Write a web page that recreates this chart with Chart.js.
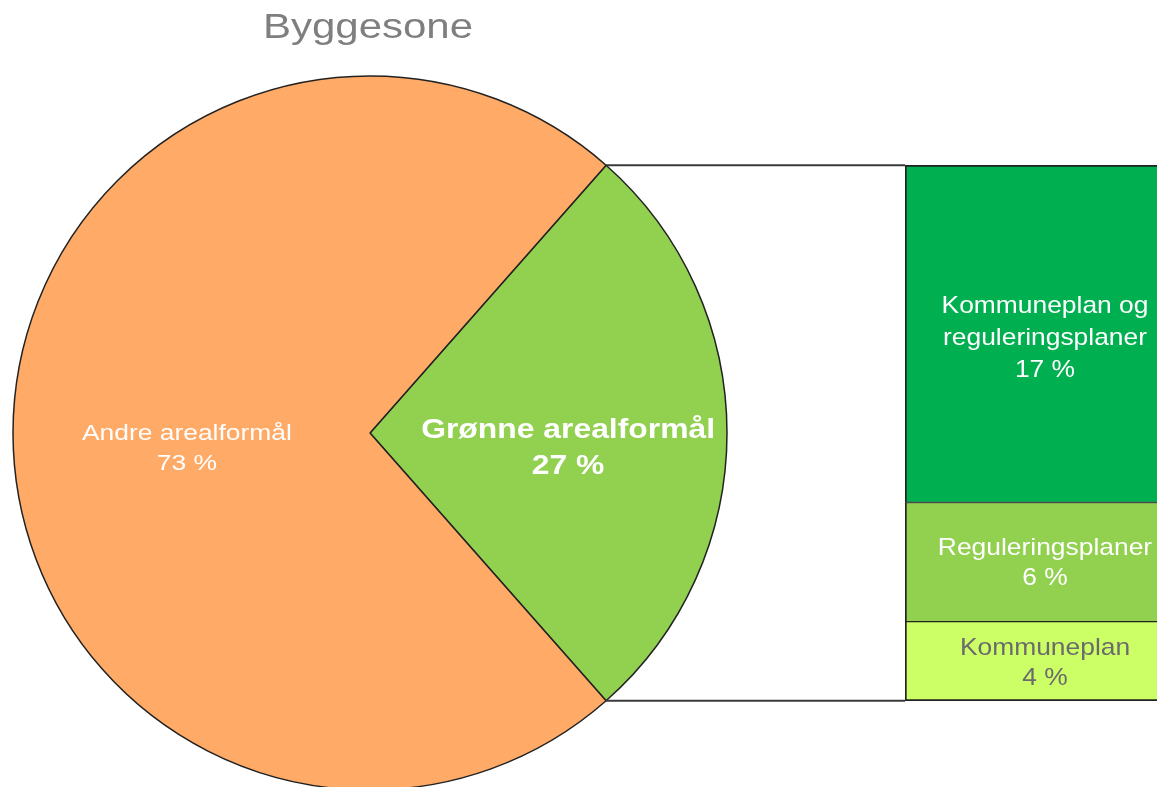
<!DOCTYPE html>
<html>
<head>
<meta charset="utf-8">
<script src="https://cdn.jsdelivr.net/npm/chart.js@4/dist/chart.umd.min.js"></script>
<style>
  html, body { margin: 0; padding: 0; background: #ffffff; overflow: hidden; width: 1157px; height: 787px; }
  #pieWrap { position: absolute; left: 0; top: 0; width: 905px; height: 800px; }
  #barWrap { position: absolute; left: 905px; top: 165px; width: 280px; height: 536px; }
</style>
</head>
<body>
<div id="pieWrap"><canvas id="pie"></canvas></div>
<div id="barWrap"><canvas id="bar"></canvas></div>
<script>
// ---- data ----
const chartTitle = 'Byggesone';
const pieLabels = ['Grønne arealformål', 'Andre arealformål'];
const pieValues = [27, 73];
const barLabels = ['Kommuneplan', 'Reguleringsplaner', 'Kommuneplan og reguleringsplaner'];
const barValues = [4, 6, 17];

// ---- styles ----
const FONT = '"Liberation Sans", Arial, sans-serif';
const pieColors = ['#92D050', '#FFAA66'];
const barColors = ['#CCFF66', '#92D050', '#00B050'];
const barTextColors = ['#6b6b6b', '#ffffff', '#ffffff'];
const barTextShift = [2, 1, 5];
const edge = '#222222';

function drawLines(ctx, lines, cx, cy, font, color, lineH, sx) {
  ctx.save();
  ctx.font = font;
  ctx.fillStyle = color;
  ctx.textAlign = 'center';
  ctx.textBaseline = 'middle';
  const n = lines.length;
  lines.forEach((l, i) => {
    const y = cy + (i - (n - 1) / 2) * lineH;
    ctx.save();
    ctx.translate(cx, y);
    ctx.scale(sx, 1);
    ctx.fillText(l, 0, 0);
    ctx.restore();
  });
  ctx.restore();
}

function wrap(ctx, text, font, sx, maxW) {
  ctx.save();
  ctx.font = font;
  const words = text.split(' ');
  const lines = [];
  let cur = '';
  words.forEach(w => {
    const t = cur ? cur + ' ' + w : w;
    if (cur && ctx.measureText(t).width * sx > maxW) { lines.push(cur); cur = w; }
    else cur = t;
  });
  if (cur) lines.push(cur);
  ctx.restore();
  return lines;
}

const pieDecor = {
  id: 'pieDecor',
  afterDatasetsDraw(chart) {
    const ctx = chart.ctx;
    const meta = chart.getDatasetMeta(0);
    // connector lines from the green slice to the bar
    const g = meta.data[0];
    const p = g.getProps(['x', 'y', 'startAngle', 'endAngle', 'outerRadius'], true);
    ctx.save();
    ctx.strokeStyle = '#3a3a3a';
    ctx.lineWidth = 2;
    [p.startAngle, p.endAngle].forEach(a => {
      const x0 = p.x + p.outerRadius * Math.cos(a);
      const y0 = p.y + p.outerRadius * Math.sin(a);
      ctx.beginPath();
      ctx.moveTo(x0, y0);
      ctx.lineTo(chart.width, y0);
      ctx.stroke();
    });
    ctx.restore();
    // slice labels
    const cfg = [
      { font: 'bold 27px ' + FONT, lh: 36, sx: 1.18, rf: 0.555, dy: 16 },
      { font: '22px ' + FONT, lh: 30, sx: 1.2, rf: 0.513, dy: 16 }
    ];
    meta.data.forEach((arc, i) => {
      const a = arc.getProps(['x', 'y', 'startAngle', 'endAngle', 'outerRadius'], true);
      const mid = (a.startAngle + a.endAngle) / 2;
      const c = cfg[i];
      const cx = a.x + Math.cos(mid) * a.outerRadius * c.rf;
      const cy = a.y + Math.sin(mid) * a.outerRadius * c.rf + c.dy;
      drawLines(ctx, [pieLabels[i], pieValues[i] + ' %'], cx, cy, c.font, '#ffffff', c.lh, c.sx);
    });
    // title
    drawLines(ctx, [chartTitle], 368, 28, '35px ' + FONT, '#7f7f7f', 40, 1.2);
  }
};

new Chart(document.getElementById('pie'), {
  type: 'pie',
  data: {
    labels: pieLabels,
    datasets: [{
      data: pieValues,
      backgroundColor: pieColors,
      borderColor: edge,
      borderWidth: 1.5
    }]
  },
  options: {
    responsive: true,
    maintainAspectRatio: false,
    animation: false,
    radius: 357,
    rotation: 90 - (pieValues[0] / (pieValues[0] + pieValues[1])) * 180,
    layout: { padding: { left: 13, right: 178, top: 76, bottom: 10 } },
    plugins: { legend: { display: false }, tooltip: { enabled: false }, title: { display: false } }
  },
  plugins: [pieDecor]
});

const barDecor = {
  id: 'barDecor',
  afterDatasetsDraw(chart) {
    const ctx = chart.ctx;
    const font = '24px ' + FONT;
    const sx = 1.1;
    chart.data.datasets.forEach((ds, i) => {
      const el = chart.getDatasetMeta(i).data[0];
      const p = el.getProps(['x', 'y', 'base'], true);
      const lines = wrap(ctx, barLabels[i], font, sx, 225).concat([barValues[i] + ' %']);
      drawLines(ctx, lines, p.x, (p.y + p.base) / 2 + barTextShift[i], font, barTextColors[i], lines.length > 2 ? 32 : 30, sx);
    });
  }
};

const total = barValues.reduce((s, v) => s + v, 0);
new Chart(document.getElementById('bar'), {
  type: 'bar',
  data: {
    labels: [''],
    datasets: barValues.map((v, i) => ({
      label: barLabels[i],
      data: [v],
      backgroundColor: barColors[i],
      borderColor: edge,
      borderSkipped: false,
      borderWidth: {
        left: 2, right: 2,
        top: i === barValues.length - 1 ? 2 : 1,
        bottom: i === 0 ? 2 : 1
      },
      barPercentage: 1,
      categoryPercentage: 1
    }))
  },
  options: {
    responsive: true,
    maintainAspectRatio: false,
    animation: false,
    layout: { padding: 0 },
    scales: {
      x: { display: false, stacked: true },
      y: { display: false, stacked: true, min: 0, max: total }
    },
    plugins: { legend: { display: false }, tooltip: { enabled: false } }
  },
  plugins: [barDecor]
});
</script>
</body>
</html>
